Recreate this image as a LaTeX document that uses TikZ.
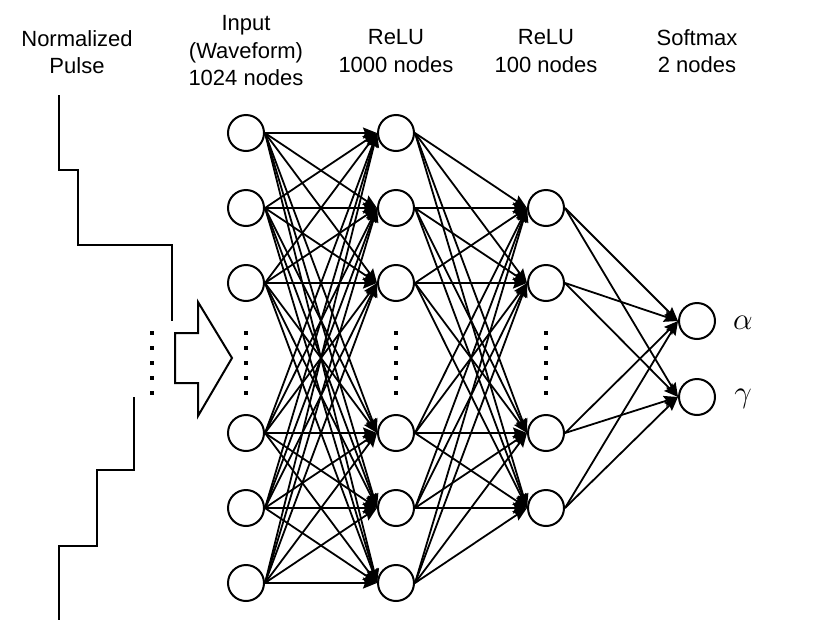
\documentclass[tikz,border=0pt]{standalone}
\usepackage{fontspec}
\setmainfont{Liberation Sans}
\usepackage{tikz}
\usetikzlibrary{arrows.meta,positioning,calc}

\begin{document}
\begin{tikzpicture}[
    x=1pt, y=-1pt,
    neuron/.style={circle, draw, line width=2pt, fill=white, minimum size=36pt, inner sep=0pt},
    header/.style={align=center, font=\fontsize{22}{27.5}\selectfont},
    outlabel/.style={font=\fontsize{24}{28}\selectfont, scale=1.25},
    arrow/.style={-{Stealth[length=14pt, width=11pt, inset=2pt]}, line width=1.8pt},
    wave/.style={line width=2pt},
    vdot/.style={fill=black}
]
\useasboundingbox (0,0) rectangle (830,627);

% Headers
\node[header] (hd_pulse) at (77,52) {Normalized\\Pulse};
\node[header] (hd_input) at (246,51) {Input\\(Waveform)\\1024 nodes};
\node[header] (hd_relu1) at (396,51) {ReLU\\1000 nodes};
\node[header] (hd_relu2) at (546,51) {ReLU\\100 nodes};
\node[header] (hd_soft) at (697,51) {Softmax\\2 nodes};

% Normalized pulse (staircase)
\draw[wave] (59,95) -- (59,170) -- (78,170) -- (78,245) -- (172,245) -- (172,321);
\draw[wave] (134,397) -- (134,470) -- (97,470) -- (97,546) -- (59,546) -- (59,620);

% Block arrow into the network
\draw[line width=2pt, line join=miter] (175,333) -- (198,333) -- (198,302) -- (232,358)
    -- (198,416) -- (198,383) -- (175,383) -- cycle;

% Input layer
\node[neuron] (in_1) at (246,133) {};
\node[neuron] (in_2) at (246,208) {};
\node[neuron] (in_3) at (246,283) {};
\node[neuron] (in_4) at (246,433) {};
\node[neuron] (in_5) at (246,508) {};
\node[neuron] (in_6) at (246,583) {};

% Hidden layer 1 (1000 nodes)
\node[neuron] (hA_1) at (396,133) {};
\node[neuron] (hA_2) at (396,208) {};
\node[neuron] (hA_3) at (396,283) {};
\node[neuron] (hA_4) at (396,433) {};
\node[neuron] (hA_5) at (396,508) {};
\node[neuron] (hA_6) at (396,583) {};

% Hidden layer 2 (100 nodes)
\node[neuron] (hB_1) at (546,208) {};
\node[neuron] (hB_2) at (546,283) {};
\node[neuron] (hB_3) at (546,433) {};
\node[neuron] (hB_4) at (546,508) {};

% Output layer
\node[neuron] (out_1) at (697,321) {};
\node[neuron] (out_2) at (697,397) {};
\node[outlabel] (lbl_alpha) at (743,323) {$\alpha$};
\node[outlabel] (lbl_gamma) at (743,399) {$\gamma$};

% Vertical dots
\foreach \x in {152,246,396,546}
  \foreach \y in {333,348,363,378,393}
    \fill[vdot] (\x-2,\y-2) rectangle (\x+2,\y+2);

% Connections
\foreach \i in {1,...,6}
  \foreach \j in {1,...,6}
    \draw[arrow] (in_\i.east) -- (hA_\j.west);
\foreach \i in {1,...,6}
  \foreach \j in {1,...,4}
    \draw[arrow] (hA_\i.east) -- (hB_\j.west);
\foreach \i in {1,...,4}
  \foreach \j in {1,2}
    \draw[arrow] (hB_\i.east) -- (out_\j.west);

\end{tikzpicture}
\end{document}
